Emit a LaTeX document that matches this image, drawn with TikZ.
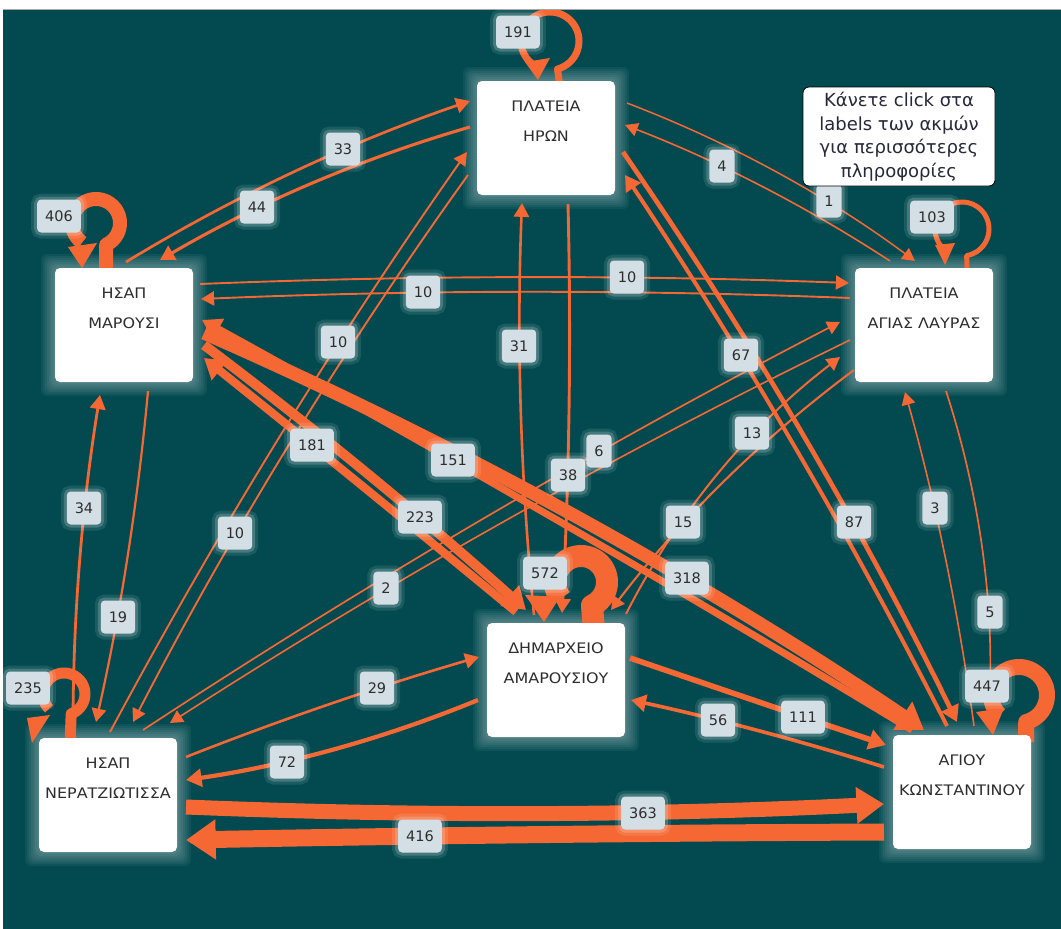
\documentclass[tikz,border=0pt]{standalone}
\usepackage{fontspec}
\setmainfont{DejaVu Sans}
\newfontfamily\nfont[FakeStretch=1.1]{DejaVu Sans}
\usetikzlibrary{arrows.meta,calc}
\definecolor{bgteal}{RGB}{2,74,80}
\definecolor{eor}{RGB}{245,104,52}
\definecolor{lblue}{RGB}{212,223,229}
\definecolor{txt}{RGB}{45,45,45}
\definecolor{tiptxt}{RGB}{40,40,58}
\pgfdeclarelayer{back}
\pgfdeclarelayer{edges}
\pgfsetlayers{back,edges,main}
\tikzset{
  stn/.style={fill=white, rounded corners=5pt, minimum width=138pt, minimum height=114pt,
    inner sep=0pt, outer sep=0pt, text=txt},
  lbl/.style={fill=lblue, rounded corners=4pt, minimum height=33pt, minimum width=25pt,
    inner xsep=8pt, inner ysep=0pt, text=txt, font=\fontsize{14.5}{16}\selectfont,
    preaction={draw=white, draw opacity=0.10, line width=12pt},
    preaction={draw=white, draw opacity=0.18, line width=6pt}},
  e/.style={draw=eor, -{Triangle[length=11pt 1.1, width=11pt 1.6]}},
  ring/.style={draw=eor, line join=round},
  tipbox/.style={fill=white, draw=black, line width=0.8pt, rounded corners=6pt,
    minimum width=192pt, minimum height=99pt, align=center, text=tiptxt,
    font=\fontsize{18}{23.5}\selectfont, inner sep=0pt}
}
\newcommand\stxt[2]{\parbox[t][114pt][t]{138pt}{\centering\nfont\fontsize{14.5}{30}\selectfont
  \rule{0pt}{30pt}\makebox[0pt]{#1}\\\makebox[0pt]{#2}}}
\newcommand\edge[4]{%
  \path #2 coordinate (eS) #4 coordinate (eE);
  \path ($(eS)!(#3)!(eE)$) coordinate (eP) ($(eS)!0.5!(eE)$) coordinate (eMid);
  \path ($(eMid)+2*(#3)-2*(eP)$) coordinate (eC);
  \draw[e,#1] (eS) .. controls ($(eS)!2/3!(eC)$) and ($(eE)!2/3!(eC)$) .. (eE);}
\begin{document}
\begin{tikzpicture}[x=1pt,y=-1pt]
\useasboundingbox (0,0) rectangle (1061,929);
% stations
\node[stn] (hr) at (546,138) {\stxt{ΠΛΑΤΕΙΑ}{ΗΡΩΝ}};
\node[stn] (al) at (924,325) {\stxt{ΠΛΑΤΕΙΑ}{ΑΓΙΑΣ ΛΑΥΡΑΣ}};
\node[stn] (ma) at (124,325) {\stxt{ΗΣΑΠ}{ΜΑΡΟΥΣΙ}};
\node[stn] (dh) at (556,680) {\stxt{ΔΗΜΑΡΧΕΙΟ}{ΑΜΑΡΟΥΣΙΟΥ}};
\node[stn] (ne) at (108,795) {\stxt{ΗΣΑΠ}{ΝΕΡΑΤΖΙΩΤΙΣΣΑ}};
\node[stn] (ak) at (962,792) {\stxt{ΑΓΙΟΥ}{ΚΩΝΣΤΑΝΤΙΝΟΥ}};
% labels
\node[lbl] (l191) at (518,32) {191};
\node[lbl] (l406) at (59,216) {406};
\node[lbl] (l103) at (932,217) {103};
\node[lbl] (l572) at (545,573) {572};
\node[lbl] (l235) at (28,688) {235};
\node[lbl] (l447) at (987,686) {447};
\node[lbl] (l33) at (343,149) {33};
\node[lbl] (l44) at (257,207) {44};
\node[lbl] (l10a) at (627,277) {10};
\node[lbl] (l10b) at (423,292) {10};
\node[lbl] (l4) at (722,166) {4};
\node[lbl] (l1) at (829,201) {1};
\node[lbl] (l10c) at (338,342) {10};
\node[lbl] (l10d) at (235,533) {10};
\node[lbl] (l31) at (519,346) {31};
\node[lbl] (l38) at (568,475) {38};
\node[lbl] (l67) at (741,355) {67};
\node[lbl] (l87) at (854,522) {87};
\node[lbl] (l34) at (84,508) {34};
\node[lbl] (l19) at (118,617) {19};
\node[lbl] (l181) at (312,445) {181};
\node[lbl] (l223) at (420,517) {223};
\node[lbl] (l151) at (453,460) {151};
\node[lbl] (l318) at (687,578) {318};
\node[lbl] (l6) at (599,451) {6};
\node[lbl] (l2) at (386,588) {2};
\node[lbl] (l13) at (752,433) {13};
\node[lbl] (l15) at (683,522) {15};
\node[lbl] (l3) at (935,508) {3};
\node[lbl] (l5) at (990,612) {5};
\node[lbl] (l29) at (377,688) {29};
\node[lbl] (l72) at (287,762) {72};
\node[lbl] (l111) at (803,717) {111};
\node[lbl] (l56) at (718,720) {56};
\node[lbl] (l363) at (643,813) {363};
\node[lbl] (l416) at (420,836) {416};
% tooltip
\node[tipbox] (tip) at (899,136.5) {Κάνετε click στα\\labels των ακμών\\για περισσότερες\\πληροφορίες};
% background and glows
\begin{pgfonlayer}{back}
\fill[white] (0,0) rectangle (1061,929);
\fill[bgteal] (3,10) rectangle (1061,929);
\draw[gray!70, line width=1pt] (3,9.5) -- (1061,9.5);
\foreach \n in {hr,al,ma,dh,ne,ak}{
  \foreach \g in {2,4,...,14}{
    \fill[white, opacity=0.05, rounded corners=6pt]
      ($(\n.south west)+(-\g,\g)$) rectangle ($(\n.north east)+(\g,-\g)$);
  }}
\end{pgfonlayer}
% edges
\begin{pgfonlayer}{edges}
\edge{line width=2.7pt}{($(ma)+(2,-63)$)}{l33}{($(hr)+(-76,-37)$)}
\edge{line width=3.1pt}{($(hr)+(-76,-11)$)}{l44}{($(ma)+(36,-65)$)}
\edge{line width=1.9pt}{($(ma)+(76,-41)$)}{l10a}{($(al)+(-75,-42)$)}
\edge{line width=1.9pt}{($(al)+(-74,-27)$)}{l10b}{($(ma)+(77,-26)$)}
\edge{line width=1.6pt}{($(al)+(-34,-64)$)}{l4}{($(hr)+(79,-13)$)}
\edge{line width=1.5pt}{($(hr)+(81,-35)$)}{l1}{($(al)+(-9,-64)$)}
\edge{line width=1.9pt}{($(ne)+(2,-63)$)}{l10c}{($(hr)+(-79,14)$)}
\edge{line width=1.9pt}{($(hr)+(-78,37)$)}{l10d}{($(ne)+(25,-73)$)}
\edge{line width=2.6pt}{($(dh)+(-22,-65)$)}{l31}{($(hr)+(-24,65)$)}
\edge{line width=2.9pt}{($(hr)+(22,66)$)}{l38}{($(dh)+(6,-67)$)}
\edge{line width=4pt}{($(ak)+(-15,-66)$)}{l67}{($(hr)+(79,37)$)}
\edge{line width=4.7pt}{($(hr)+(77,14)$)}{l87}{($(ak)+(-5,-70)$)}
\edge{line width=2.8pt}{($(ne)+(-35,-63)$)}{l34}{($(ma)+(-24,70)$)}
\edge{line width=2.2pt}{($(ma)+(24,66)$)}{l19}{($(ne)+(-12,-73)$)}
\edge{line width=8.2pt}{($(dh)+(-40,-68)$)}{l181}{($(ma)+(80,33)$)}
\edge{line width=9.8pt}{($(ma)+(80,20)$)}{l223}{($(dh)+(-30,-70)$)}
\edge{line width=7.1pt}{($(ak)+(-50,-62)$)}{l151}{($(ma)+(78,-5)$)}
\edge{line width=13.3pt}{($(ma)+(80,8)$)}{l318}{($(ak)+(-38,-62)$)}
\edge{line width=1.7pt}{($(ne)+(35,-65)$)}{l6}{($(al)+(-84,-3)$)}
\edge{line width=1.6pt}{($(al)+(-74,15)$)}{l2}{($(ne)+(62,-72)$)}
\edge{line width=2pt}{($(dh)+(70,-66)$)}{l13}{($(al)+(-84,32)$)}
\edge{line width=2.1pt}{($(al)+(-70,45)$)}{l15}{($(dh)+(55,-70)$)}
\edge{line width=1.6pt}{($(ak)+(12,-66)$)}{l3}{($(al)+(-19,67)$)}
\edge{line width=1.7pt}{($(al)+(22,66)$)}{l5}{($(ak)+(26,-66)$)}
\edge{line width=2.6pt}{($(ne)+(78,-38)$)}{l29}{($(dh)+(-77,-23)$)}
\edge{line width=4.2pt}{($(dh)+(-78,20)$)}{l72}{($(ne)+(78,-15)$)}
\edge{line width=5.6pt}{($(dh)+(74,-22)$)}{l111}{($(ak)+(-76,-47)$)}
\edge{line width=3.6pt}{($(ak)+(-78,-25)$)}{l56}{($(dh)+(75,20)$)}
\edge{line width=15pt}{($(ne)+(78,12)$)}{l363}{($(ak)+(-78,12)$)}
\edge{line width=17pt}{($(ak)+(-78,40)$)}{l416}{($(ne)+(78,45)$)}
% self loops
\begin{scope}
  \clip (3,10) rectangle (1061,929);
  \begin{scope}[shift={(hr)}]
    \draw[ring, line width=7pt] (14,-50) -- plot[domain=0:1, samples=60]
      ({4+29*cos(75-315*\x)},{-97+29*sin(75-315*\x)});
    \fill[eor] (-21,-76) -- (4,-80) -- (-8,-58) -- cycle;
  \end{scope}
\end{scope}
\begin{scope}[shift={(ma)}]
  \draw[ring, line width=14pt] (-18,-50) -- plot[domain=0:1, samples=60]
    ({-28+24*cos(65-300*\x)},{-102+24*sin(65-300*\x)});
  \fill[eor] (-56,-78) -- (-27,-82) -- (-42,-57) -- cycle;
\end{scope}
\begin{scope}[shift={(al)}]
  \draw[ring, line width=5pt] (43,-50) -- plot[domain=0:1, samples=60]
    ({38+27*cos(80-311*\x)},{-96+27*sin(80-311*\x)});
  \fill[eor] (11,-80) -- (31,-82) -- (21,-60) -- cycle;
\end{scope}
\begin{scope}[shift={(dh)}]
  \draw[ring, line width=22pt] (38,-50) -- plot[domain=0:1, samples=60]
    ({25+26*cos(65-285*\x)},{-98+26*sin(65-285*\x)});
  \fill[eor] (-31,-85) -- (4,-83) -- (-12,-58) -- cycle;
\end{scope}
\begin{scope}[shift={(ne)}]
  \draw[ring, line width=11pt] (-38,-50) -- plot[domain=0:1, samples=60]
    ({-44+21*cos(70-295*\x)},{-101+21*sin(70-295*\x)});
  \fill[eor] (-81,-77) -- (-58,-80) -- (-76,-52) -- cycle;
\end{scope}
\begin{scope}[shift={(ak)}]
  \draw[ring, line width=16pt] (64,-50) -- plot[domain=0:1, samples=60]
    ({57+28*cos(75-300*\x)},{-97+28*sin(75-300*\x)});
  \fill[eor] (14,-80) -- (42,-84) -- (31,-57) -- cycle;
\end{scope}
\end{pgfonlayer}
\end{tikzpicture}
\end{document}
